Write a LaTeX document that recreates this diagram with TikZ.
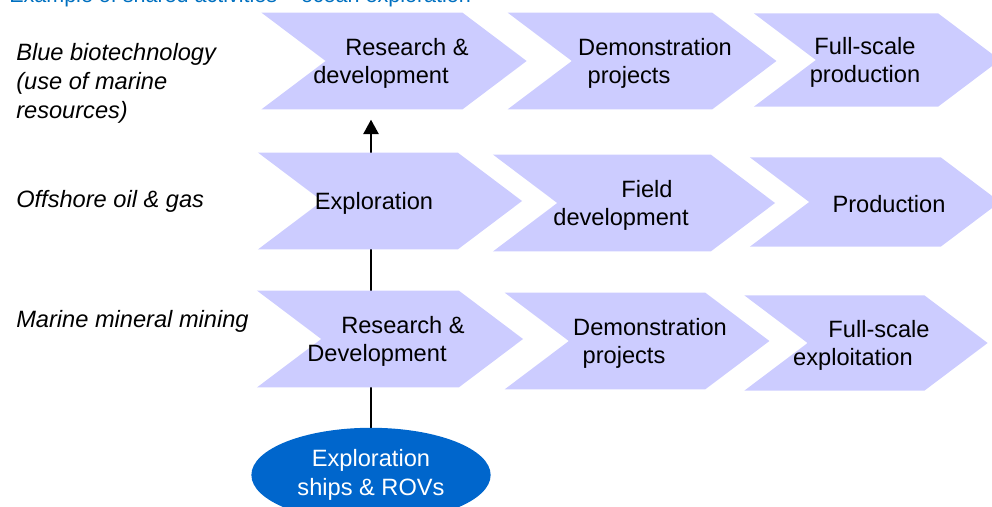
\documentclass[tikz,border=0pt]{standalone}
\usepackage{fontspec}
\setmainfont{Liberation Sans}
\usetikzlibrary{shapes.symbols,shapes.geometric,arrows.meta,backgrounds}

\definecolor{chevfill}{HTML}{CCCCFF}
\definecolor{shipblue}{HTML}{0066CC}
\definecolor{titleblue}{HTML}{0070C0}
\newcommand\chevfont{\fontsize{16.8}{20.6}\selectfont}
\newcommand\twolines[2]{\hspace*{0.65cm}#1\\#2\hspace*{0.65cm}}

\begin{document}
\begin{tikzpicture}[x=0.025cm,y=-0.025cm,
  chev/.style={shape=signal,signal from=west,signal to=east,signal pointer angle=74,
    fill=chevfill,inner sep=0pt,minimum height=2.42cm},
  chevtext/.style={font=\chevfont,align=center,yshift=-0.06cm},
  sector/.style={anchor=base west,align=left,inner sep=0pt,font=\chevfont\itshape}]
  \useasboundingbox (0,0) rectangle (992,506);
  \node[anchor=base west,inner sep=0pt,text=titleblue,font=\fontsize{15.3}{18}\selectfont] (title) at (9,3)
    {Example of shared activities -- ocean exploration};
  % sectors
  \node[sector] (biolbl) at (16,118) {Blue biotechnology\\(use of marine\\resources)};
  \node[sector] (oillbl) at (16,207) {Offshore oil \& gas};
  \node[sector] (minlbl) at (16,327) {Marine mineral mining};
  % chevrons
  \node[chev,minimum width=6.63cm,label={[chevtext]center:\twolines{Research \&}{development}}] (bio1) at (394,61) {};
  \node[chev,minimum width=6.72cm,label={[chevtext]center:\twolines{Demonstration}{projects}}] (bio2) at (642,61) {};
  \node[chev,minimum width=6.15cm,minimum height=2.33cm,
    label={[chevtext,xshift=-0.3cm]center:Full-scale\\production}] (bio3) at (877,60) {};
  \node[chev,minimum width=6.6cm,label={[chevtext,xshift=-0.4cm]center:Exploration}] (oil1) at (390,201) {};
  \node[chev,minimum width=7.05cm,label={[chevtext]center:\twolines{Field}{development}}] (oil2) at (634,203) {};
  \node[chev,minimum width=6.25cm,minimum height=2.23cm,
    label={[chevtext,xshift=0.35cm]center:Production}] (oil3) at (875,202) {};
  \node[chev,minimum width=6.65cm,label={[chevtext]center:\twolines{Research \&}{Development}}] (min1) at (390,339) {};
  \node[chev,minimum width=6.62cm,label={[chevtext]center:\twolines{Demonstration}{projects}}] (min2) at (637,341) {};
  \node[chev,minimum width=6.08cm,minimum height=2.38cm,
    label={[chevtext]center:\twolines{Full-scale}{exploitation}}] (min3) at (866,343) {};
  % vessels
  \node[ellipse,fill=shipblue,text=white,minimum width=5.98cm,minimum height=2.36cm,
    inner sep=0pt,align=center,font=\chevfont] (ships) at (371,475) {Exploration\\ships \& ROVs};
  \begin{scope}[on background layer]
    \draw[line width=1.4pt,-{Triangle[width=0.38cm,length=0.36cm]},shorten >=0.25cm]
      (ships.north) -- (ships.north |- bio1.south);
  \end{scope}
\end{tikzpicture}
\end{document}
